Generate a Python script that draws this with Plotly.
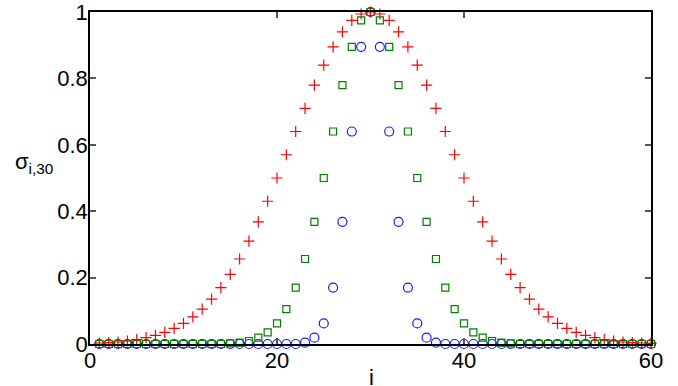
import plotly.graph_objects as go

# site index i = 1..60
i_vals = list(range(1, 61))

# sigma_{i,30} (widest profile, red +)
sigma_wide = [
    0.003, 0.004, 0.006, 0.009, 0.013, 0.019, 0.026, 0.035, 0.047, 0.062,
    0.082, 0.105, 0.135, 0.170, 0.210, 0.256, 0.310, 0.368, 0.430, 0.500,
    0.570, 0.640, 0.710, 0.780, 0.840, 0.895, 0.940, 0.975, 0.994, 1.000,
    0.994, 0.975, 0.940, 0.895, 0.840, 0.780, 0.710, 0.640, 0.570, 0.500,
    0.430, 0.368, 0.310, 0.256, 0.210, 0.170, 0.135, 0.105, 0.082, 0.062,
    0.047, 0.035, 0.026, 0.019, 0.013, 0.009, 0.006, 0.004, 0.003, 0.002,
]

# medium profile (green squares)
sigma_mid = [
    0.000, 0.000, 0.000, 0.000, 0.000, 0.000, 0.000, 0.000, 0.000, 0.000,
    0.000, 0.000, 0.000, 0.000, 0.002, 0.004, 0.009, 0.019, 0.035, 0.062,
    0.105, 0.170, 0.256, 0.368, 0.500, 0.640, 0.780, 0.895, 0.975, 1.000,
    0.975, 0.895, 0.780, 0.640, 0.500, 0.368, 0.256, 0.170, 0.105, 0.062,
    0.035, 0.019, 0.009, 0.004, 0.002, 0.000, 0.000, 0.000, 0.000, 0.000,
    0.000, 0.000, 0.000, 0.000, 0.000, 0.000, 0.000, 0.000, 0.000, 0.000,
]

# narrow profile (blue circles)
sigma_narrow = [
    0.000, 0.000, 0.000, 0.000, 0.000, 0.000, 0.000, 0.000, 0.000, 0.000,
    0.000, 0.000, 0.000, 0.000, 0.000, 0.000, 0.000, 0.000, 0.000, 0.000,
    0.000, 0.000, 0.004, 0.019, 0.062, 0.170, 0.368, 0.640, 0.895, 1.000,
    0.895, 0.640, 0.368, 0.170, 0.062, 0.019, 0.004, 0.000, 0.000, 0.000,
    0.000, 0.000, 0.000, 0.000, 0.000, 0.000, 0.000, 0.000, 0.000, 0.000,
    0.000, 0.000, 0.000, 0.000, 0.000, 0.000, 0.000, 0.000, 0.000, 0.000,
]

x_ticks = [0, 20, 40, 60]
y_ticks = [0, 0.2, 0.4, 0.6, 0.8, 1]
y_tick_text = ["0", "0.2", "0.4", "0.6", "0.8", "1"]

FONT = "Liberation Sans, Arial, Helvetica, sans-serif"

fig = go.Figure()
fig.add_trace(go.Scatter(
    x=i_vals, y=sigma_narrow, mode="markers", cliponaxis=False,
    marker=dict(symbol="circle-open", size=9, color="#1a1aff", line=dict(width=1.2))))
fig.add_trace(go.Scatter(
    x=i_vals, y=sigma_mid, mode="markers", cliponaxis=False,
    marker=dict(symbol="square-open", size=7, color="#008000", line=dict(width=1.2))))
fig.add_trace(go.Scatter(
    x=i_vals, y=sigma_wide, mode="markers", cliponaxis=False,
    marker=dict(symbol="cross-thin", size=8, color="#ff0000", line=dict(width=1.2, color="#ff0000"))))

axis_style = dict(
    showline=True, linecolor="black", linewidth=1.5, mirror="ticks",
    ticks="inside", ticklen=6, tickwidth=1.5, tickcolor="#555555",
    showgrid=False, zeroline=False, automargin=False, ticklabeloverflow="allow",
    tickfont=dict(family=FONT, size=22, color="black"),
)

fig.update_xaxes(range=[0, 60], tickvals=x_ticks, ticklabelstandoff=-4, **axis_style)
fig.update_yaxes(range=[0, 1], tickvals=y_ticks, ticktext=y_tick_text,
                 ticklabelstandoff=-4, **axis_style)

fig.add_annotation(
    text="σ<sub>i,30</sub>", xref="paper", yref="paper", x=-0.062, y=0.545,
    xanchor="right", yanchor="middle", showarrow=False,
    font=dict(family=FONT, size=22, color="black"))
fig.add_annotation(
    text="i", xref="paper", yref="paper", x=0.502, y=-0.057,
    xanchor="center", yanchor="top", showarrow=False,
    font=dict(family=FONT, size=22, color="black"))

fig.update_layout(
    width=678, height=386,
    margin=dict(l=90, r=27, t=12, b=42),
    paper_bgcolor="white", plot_bgcolor="white",
    showlegend=False,
)

# the page body has a default 8px margin; drop it so the figure sits at (0, 0)
fig.write_html("out.html", config={"displayModeBar": False},
               post_script="document.body.style.margin = '0';")
